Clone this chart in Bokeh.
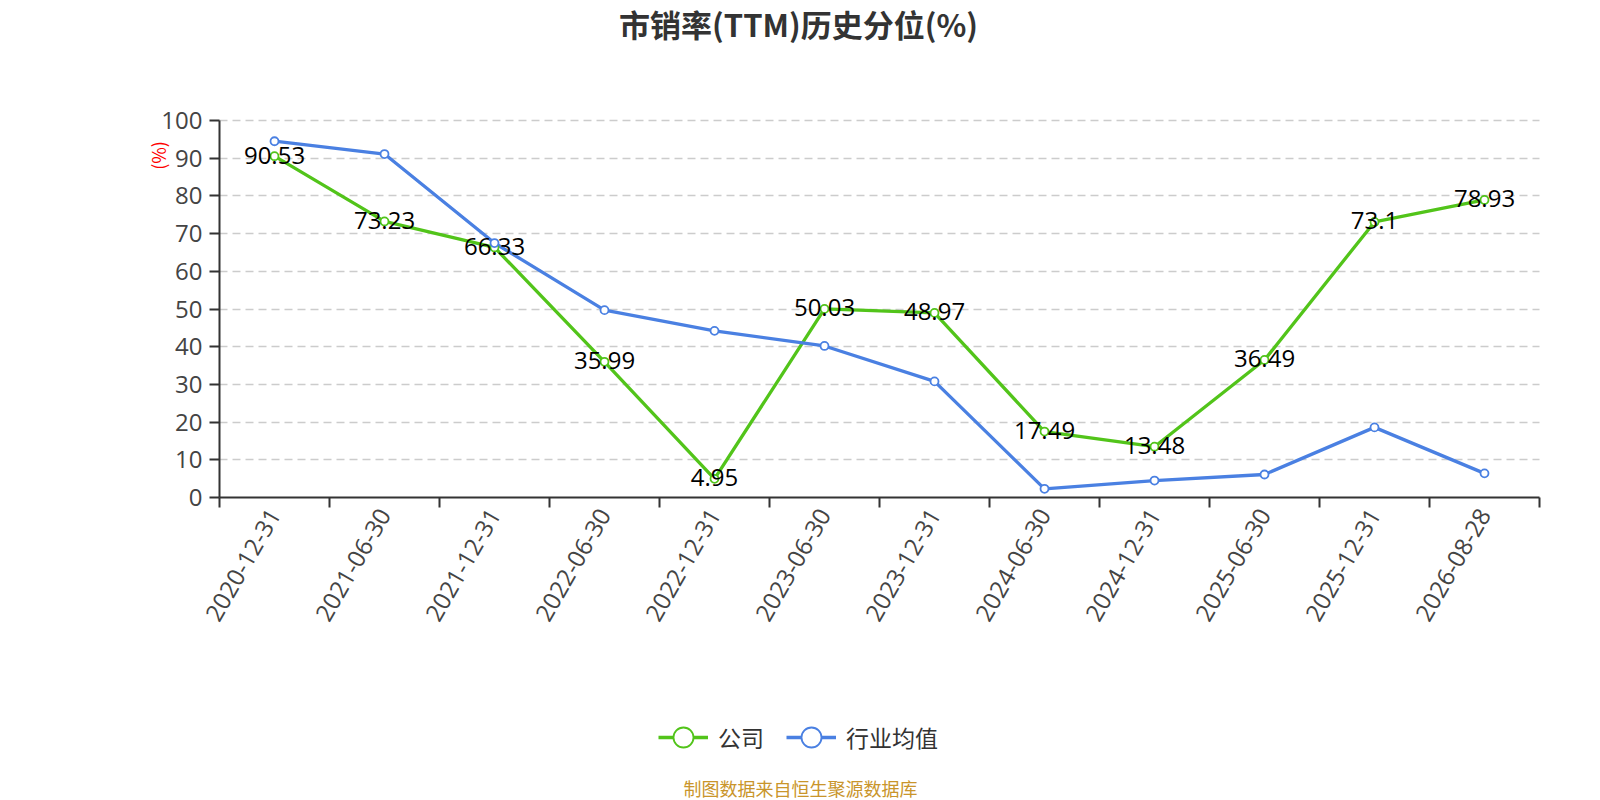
import math
from bokeh.plotting import figure
from bokeh.models import Range1d, FixedTicker, Legend, LegendItem, Label
from bokeh.core.properties import value
from bokeh.embed import file_html
from bokeh.resources import INLINE

# ---- data ----
dates = ["2020-12-31", "2021-06-30", "2021-12-31", "2022-06-30", "2022-12-31", "2023-06-30",
         "2023-12-31", "2024-06-30", "2024-12-31", "2025-06-30", "2025-12-31", "2026-08-28"]
company = [90.53, 73.23, 66.33, 35.99, 4.95, 50.03, 48.97, 17.49, 13.48, 36.49, 73.1, 78.93]
industry = [94.5, 91.1, 67.5, 49.7, 44.2, 40.2, 30.8, 2.3, 4.5, 6.1, 18.6, 6.4]
company_labels = ["90.53", "73.23", "66.33", "35.99", "4.95", "50.03", "48.97", "17.49",
                  "13.48", "36.49", "73.1", "78.93"]
y_ticks = [0, 10, 20, 30, 40, 50, 60, 70, 80, 90, 100]
series_names = ["公司", "行业均值"]
title_text = "市销率(TTM)历史分位(%)"
footer_text = "制图数据来自恒生聚源数据库"
y_unit = "(%)"

GREEN = "#52C41A"
BLUE = "#4A80E2"
FONT = "Noto Sans CJK SC"
NUMFONT = "Open Sans"

W, H = 1600, 800
# plot area in canvas pixels
PL, PR, PT, PB = 219, 1539, 120, 497

n = len(dates)
xs = [i + 0.5 for i in range(n)]
y_max = y_ticks[-1]

xpx = (PR - PL) / n
ypx = (PB - PT) / y_max
x_range = Range1d(-PL / xpx, n + (W - PR) / xpx)
y_range = Range1d(-(H - PB) / ypx, y_max + PT / ypx)

p = figure(width=W, height=H, output_backend="svg", toolbar_location=None,
           title_location=None, x_range=x_range, y_range=y_range, min_border=0)
p.outline_line_color = None
p.background_fill_color = "white"
p.border_fill_color = "white"

# x axis: labels at centers, ticks at boundaries
xa = p.xaxis[0]
xa.fixed_location = 0
xa.bounds = (0, n)
xa.ticker = FixedTicker(ticks=xs, minor_ticks=list(range(n + 1)))
xa.major_label_overrides = {x: d for x, d in zip(xs, dates)}
xa.major_tick_out = 0
xa.major_tick_in = 0
xa.minor_tick_out = 10
xa.minor_tick_in = 0
xa.minor_tick_line_color = "#333333"
xa.minor_tick_line_width = 2
xa.axis_line_color = "#333333"
xa.axis_line_width = 2
xa.major_label_orientation = math.pi / 3
xa.major_label_standoff = 3
xa.major_label_text_font = NUMFONT
xa.major_label_text_font_size = "24px"
xa.major_label_text_color = "#444444"

ya = p.yaxis[0]
ya.fixed_location = 0
ya.bounds = (0, y_max)
ya.ticker = FixedTicker(ticks=y_ticks)
ya.major_tick_out = 10
ya.major_tick_in = 0
ya.minor_tick_line_color = None
ya.major_tick_line_color = "#333333"
ya.major_tick_line_width = 2
ya.axis_line_color = "#333333"
ya.axis_line_width = 2
ya.major_label_standoff = 7
ya.major_label_text_font = NUMFONT
ya.major_label_text_font_size = "24px"
ya.major_label_text_color = "#444444"

p.xgrid.visible = False
p.ygrid.ticker = FixedTicker(ticks=y_ticks[1:])
p.ygrid.cross_bounds = (0, n)
p.ygrid.grid_line_color = "#cccccc"
p.ygrid.grid_line_dash = "8 5"
p.ygrid.grid_line_width = 1.5

# series
gl = p.line(xs, company, line_color=GREEN, line_width=3.3)
bl = p.line(xs, industry, line_color=BLUE, line_width=3.3)
gs = p.scatter(xs, company, size=8, marker="circle", fill_color="white", line_color=GREEN, line_width=1.8)
bs = p.scatter(xs, industry, size=8, marker="circle", fill_color="white", line_color=BLUE, line_width=1.8)

p.text(xs, company, text=company_labels, text_align="center", text_baseline="middle",
       y_offset=-1, text_font=value(NUMFONT), text_font_size="24px", text_color="#000000")

legend = Legend(items=[LegendItem(label=series_names[0], renderers=[gl, gs]),
                       LegendItem(label=series_names[1], renderers=[bl, bs])],
                orientation="horizontal", location=(658, H - 762),
                glyph_width=50, glyph_height=50, label_standoff=10, spacing=22,
                padding=0, margin=0, border_line_color=None, background_fill_alpha=0,
                label_text_font=FONT, label_text_font_size="23px", label_text_color="#333333")
p.add_layout(legend, "center")

# title, unit, footer (screen units: from frame bottom-left, frame = whole canvas)
p.add_layout(Label(x=798, y=H - 23, x_units="screen", y_units="screen",
                   text=title_text, text_align="center", text_baseline="middle",
                   text_font=FONT, text_font_size="31px", text_font_style="bold",
                   text_color="#333333"))
p.add_layout(Label(x=157, y=H - 155, x_units="screen", y_units="screen",
                   text=y_unit, angle=math.pi / 2, text_align="center", text_baseline="middle",
                   text_font=FONT, text_font_size="18px", text_color="#ff0000"))
p.add_layout(Label(x=800, y=H - 787, x_units="screen", y_units="screen",
                   text=footer_text, text_align="center", text_baseline="middle",
                   text_font=FONT, text_font_size="18px", text_color="#C9952B"))

open("out.html", "w").write(file_html(p, INLINE))
